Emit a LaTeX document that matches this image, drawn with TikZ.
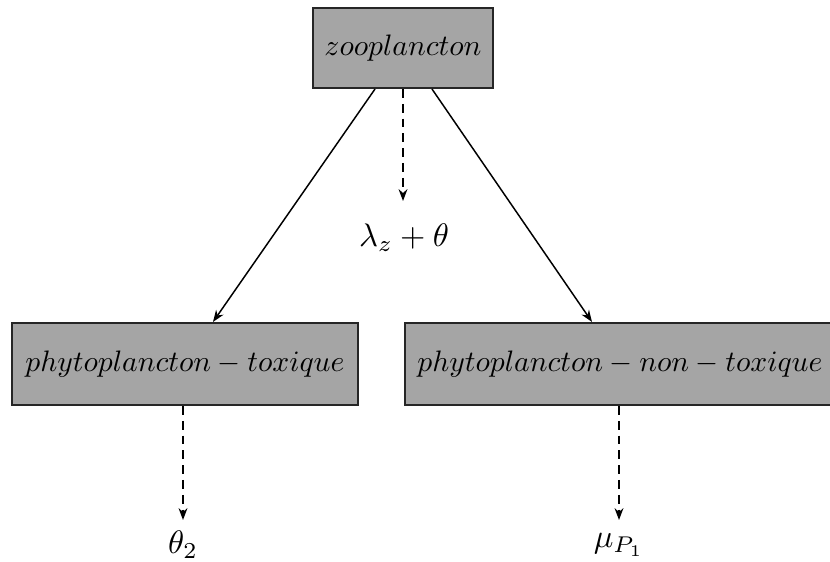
\documentclass[tikz,border=0pt]{standalone}
\usetikzlibrary{calc,arrows.meta}
\definecolor{boxgray}{RGB}{165,165,165}
\begin{document}
\begin{tikzpicture}[x=0.338pt,y=-0.338pt,
  box/.style={draw=black!85,line width=0.7pt,fill=boxgray,inner sep=0pt,anchor=center},
  solidarrow/.style={-{Stealth[length=4pt,width=3pt]},line width=0.5pt},
  dasharrow/.style={-{Stealth[length=4pt,width=3pt]},line width=0.5pt,dash pattern=on 3pt off 2pt},
  lbl/.style={inner sep=0pt,anchor=center,scale=1.1}]
\useasboundingbox (0,0) rectangle (830,562);
\node[box,minimum width=180*0.338pt,minimum height=80*0.338pt] (zoo) at (403,48) {$zooplancton$};
\node[box,minimum width=346*0.338pt,minimum height=82*0.338pt] (tox) at (185,364) {$phytoplancton-toxique$};
\node[box,minimum width=430*0.338pt,minimum height=82*0.338pt] (ntox) at (620,364) {$phytoplancton-non-toxique$};
\node[lbl] (lam) at (404,238) {$\lambda_z+\theta$};
\node[lbl] (th) at (183,545) {$\theta_2$};
\node[lbl] (mu) at (619,545) {$\mu_{P_1}$};
\coordinate (lamtip) at (403,201);
\coordinate (thtip) at (183,520);
\coordinate (mutip) at (619,520);
\draw[solidarrow] ($(zoo.south)+(-28,0)$) -- ($(tox.north)+(28,0)$);
\draw[solidarrow] ($(zoo.south)+(29,0)$) -- ($(ntox.north)+(-28,0)$);
\draw[dasharrow] (zoo.south) -- (lamtip);
\draw[dasharrow] ($(tox.south)+(-2,0)$) -- (thtip);
\draw[dasharrow] ($(ntox.south)+(-1,0)$) -- (mutip);
\end{tikzpicture}
\end{document}
